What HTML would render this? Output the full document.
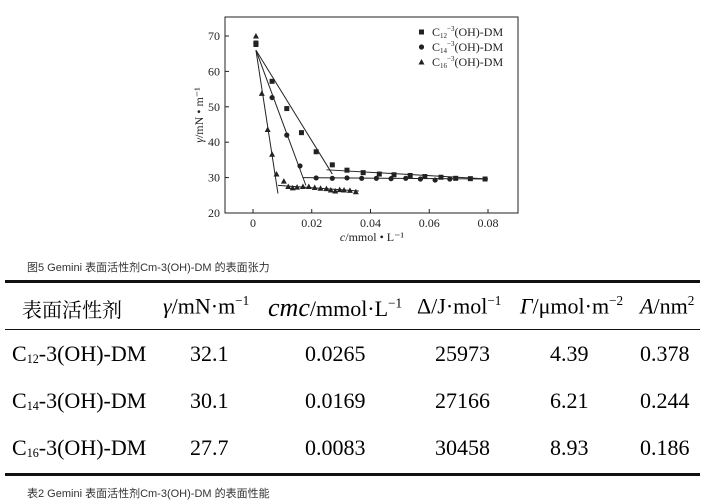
<!DOCTYPE html>
<html><head><meta charset="utf-8"><style>
body{margin:0;width:706px;height:502px;background:#fff;overflow:hidden;position:relative;font-family:"Liberation Serif","Noto Serif CJK SC",serif}
.a{position:absolute;white-space:nowrap}
.cap{font-family:"Liberation Sans","Noto Sans CJK SC",sans-serif;font-size:11px;color:#333}
.h{font-size:22px;top:293px}
.r{font-size:22px}
sub{font-size:55%;vertical-align:-2px}
sup{font-size:60%}
</style></head><body>
<svg id="s" width="706" height="260" style="position:absolute;left:0;top:0" font-family="Liberation Serif" fill="#222"></svg>
<div class="a cap" style="left:27px;top:259px">图5 Gemini 表面活性剂Cm-3(OH)-DM 的表面张力</div>
<div class="a" style="left:5px;top:280px;width:695px;height:3px;background:#111"></div>
<div class="a" style="left:5px;top:329px;width:695px;height:1px;background:#111"></div>
<div class="a" style="left:5px;top:473px;width:695px;height:3px;background:#111"></div>
<div class="a h" style="left:22px;top:294px;font-family:'Noto Serif CJK SC',serif;font-size:20px">表面活性剂</div>
<div class="a h" style="left:163px"><i>γ</i>/mN·m<sup>−1</sup></div>
<div class="a h" style="left:268px"><i style="font-size:26px">cmc</i>/mmol·L<sup>−1</sup></div>
<div class="a h" style="left:417px">Δ/J·mol<sup>−1</sup></div>
<div class="a h" style="left:520px"><i>Γ</i>/μmol·m<sup>−2</sup></div>
<div class="a h" style="left:640px"><i>A</i>/nm<sup>2</sup></div>
<div class="a r" style="left:12px;top:341px">C<sub>12</sub>-3(OH)-DM</div>
<div class="a r" style="left:190px;top:341px">32.1</div><div class="a r" style="left:305px;top:341px">0.0265</div><div class="a r" style="left:435px;top:341px">25973</div><div class="a r" style="left:550px;top:341px">4.39</div><div class="a r" style="left:640px;top:341px">0.378</div>
<div class="a r" style="left:12px;top:388px">C<sub>14</sub>-3(OH)-DM</div>
<div class="a r" style="left:190px;top:388px">30.1</div><div class="a r" style="left:305px;top:388px">0.0169</div><div class="a r" style="left:435px;top:388px">27166</div><div class="a r" style="left:550px;top:388px">6.21</div><div class="a r" style="left:640px;top:388px">0.244</div>
<div class="a r" style="left:12px;top:435px">C<sub>16</sub>-3(OH)-DM</div>
<div class="a r" style="left:190px;top:435px">27.7</div><div class="a r" style="left:305px;top:435px">0.0083</div><div class="a r" style="left:435px;top:435px">30458</div><div class="a r" style="left:550px;top:435px">8.93</div><div class="a r" style="left:640px;top:435px">0.186</div>
<div class="a cap" style="left:27px;top:485px">表2 Gemini 表面活性剂Cm-3(OH)-DM 的表面性能</div>
<script>
const X=x=>253+x*2937.5,Y=y=>213-(y-20)*3.54;let h='';
h+='<rect x="225" y="17" width="293" height="196" fill="none" stroke="#222" stroke-width="1"/>';
for(let v=20;v<=70;v+=10){h+=`<line x1="225" x2="229" y1="${Y(v)}" y2="${Y(v)}" stroke="#222"/><text x="220" y="${Y(v)+4}" font-size="12" text-anchor="end">${v}</text>`}
[[0,'0'],[0.02,'0.02'],[0.04,'0.04'],[0.06,'0.06'],[0.08,'0.08']].forEach(([v,t])=>{h+=`<line x1="${X(v)}" x2="${X(v)}" y1="213" y2="209" stroke="#222"/><text x="${X(v)}" y="227" font-size="12" text-anchor="middle">${t}</text>`});
h+=`<text x="372" y="241" font-size="12" text-anchor="middle"><tspan font-style="italic">c</tspan>/mmol • L⁻¹</text>`;
h+=`<text transform="translate(203,115) rotate(-90)" font-size="12" text-anchor="middle"><tspan font-style="italic">γ</tspan>/mN • m⁻¹</text>`;
const L=(a,b,c,d)=>{h+=`<line x1="${X(a)}" y1="${Y(b)}" x2="${X(c)}" y2="${Y(d)}" stroke="#222" stroke-width="1"/>`};
L(0.001,66,0.027,31);L(0.025,32.2,0.08,29.6);L(0.001,66,0.018,27.8);L(0.017,30,0.08,29.6);L(0.001,66,0.0085,25.5);L(0.0085,27.8,0.036,26.2);
const sq=(x,y)=>h+=`<rect x="${X(x)-2.5}" y="${Y(y)-2.5}" width="5" height="5"/>`;
const ci=(x,y)=>h+=`<circle cx="${X(x)}" cy="${Y(y)}" r="2.6"/>`;
const tr=(x,y)=>{let a=X(x),b=Y(y);h+=`<polygon points="${a},${b-3} ${a-3},${b+2.5} ${a+3},${b+2.5}"/>`};
[[0.001,68],[0.001,67.6],[0.0065,57.2],[0.0115,49.5],[0.0165,42.7],[0.0215,37.3],[0.027,33.6],[0.032,32.1],[0.0375,31.4],[0.043,31],[0.048,30.8],[0.0535,30.6],[0.0585,30.3],[0.064,30.1],[0.069,29.8],[0.074,29.7],[0.079,29.6]].forEach(p=>sq(...p));
[[0.001,68],[0.0065,52.6],[0.0115,42],[0.016,33.3],[0.0215,29.9],[0.027,29.8],[0.032,29.9],[0.037,29.8],[0.042,29.8],[0.047,29.7],[0.052,29.8],[0.057,29.6],[0.062,29.3],[0.067,29.6]].forEach(p=>ci(...p));
[[0.001,70],[0.003,53.8],[0.005,43.6],[0.0065,36.6],[0.008,31],[0.0105,29],[0.012,27.5],[0.0135,27.1],[0.015,27.3],[0.017,27.5],[0.019,27.5],[0.021,27.2],[0.023,27],[0.025,26.9],[0.0265,26.5],[0.028,26.2],[0.0295,26.6],[0.031,26.5],[0.033,26.4],[0.035,26]].forEach(p=>tr(...p));
[['C','12',0],['C','14',1],['C','16',2]].forEach(([c,n,i])=>{let y=32+i*15;if(i==0)h+=`<rect x="419" y="${y-2.5}" width="5" height="5"/>`;else if(i==1)h+=`<circle cx="421.5" cy="${y}" r="2.6"/>`;else h+=`<polygon points="421.5,${y-3} 418.5,${y+2.5} 424.5,${y+2.5}"/>`;
h+=`<text x="432" y="${y+4}" font-size="12">C<tspan font-size="7" dy="2">${n}</tspan><tspan font-size="7" dy="-7">−3</tspan><tspan dy="5">(OH)-DM</tspan></text>`});
document.getElementById('s').innerHTML=h;
</script>
</body></html>
